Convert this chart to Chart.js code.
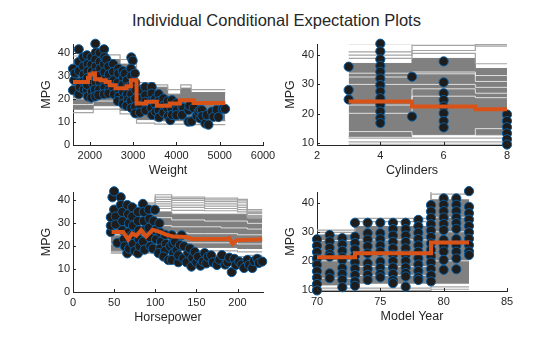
<!DOCTYPE html>
<html>
<head>
<meta charset="utf-8">
<script src="https://cdn.jsdelivr.net/npm/chart.js@4.4.1/dist/chart.umd.min.js"></script>
<style>
  html, body { margin: 0; padding: 0; background: #fff; }
  #wrap { position: relative; width: 560px; height: 337px; overflow: hidden; }
  #title { position: absolute; left: 0; top: 11px; width: 553px; text-align: center;
           font: 16.5px "Liberation Sans", Arial, sans-serif; color: #262626; }
  canvas { position: absolute; }
</style>
</head>
<body>
<div id="wrap">
  <div id="title">Individual Conditional Expectation Plots</div>
  <canvas id="p1" style="left:13px;top:32px" width="270" height="155"></canvas>
  <canvas id="p2" style="left:257px;top:32px" width="270" height="155"></canvas>
  <canvas id="p3" style="left:13px;top:180px" width="270" height="154"></canvas>
  <canvas id="p4" style="left:257px;top:180px" width="270" height="153"></canvas>
</div>
<script>
// ---- Weight panel ----
const weightTicks = [2000, 3000, 4000, 5000, 6000];
const weightPdpX = [1613, 1960, 2000, 2080, 2120, 2250, 2370, 2460, 2600, 2850, 2950, 3080, 3300, 3550, 3850, 4080, 4400, 5130];
const weightPdpY = [27.3, 29, 30.5, 31, 28.5, 28, 27.3, 25.9, 24.6, 25.4, 28, 18, 18.7, 17, 18, 19.4, 18.2, 18.2];
const weightGridX = [1613, 1950, 2080, 2400, 2700, 3000, 3080, 3500, 3800, 4100, 4340, 5130];
const weightBandHi = [37, 37.5, 38, 37, 35, 34, 26, 25, 22, 24.6, 22.7, 22.7];
const weightBandLo = [15.5, 15.5, 17, 17, 15, 14, 11, 10.5, 10.5, 10.5, 10.5, 10.5];
const weightLight = [
  [38.5, 39, 40, 39, 37, 36, 27, 26, 24, 26, 24, 24],
  [14, 14, 15.5, 15.5, 13.5, 12.5, 9.5, 9, 9, 9, 8.8, 8.8]
];
const weightWhite = [
  [20, 20, 21, 22, 20, 18, 14, 13, 14, 15, 14, 14],
  [17.5, 17.5, 19, 19, 17, 16, 20, 19, 17, 19, 18, 18]
];
const weightObs = [
  [1613,33],[1613,23.7],[1640,28],[1660,31],
  [1745,41.4],[1750,36],[1750,32],[1760,27],[1745,22],[1770,25],
  [1850,38],[1850,34],[1860,30.5],[1850,27.5],[1860,24],
  [1938,38.8],[1950,35],[1950,32],[1940,29],[1938,23.7],[1960,21],[1940,26],
  [2040,38],[2040,34.8],[2050,32],[2040,29.5],[2060,27],[2050,23],[2040,20.5],
  [2130,43.8],[2140,40],[2130,37],[2140,34],[2130,31],[2140,27],[2120,24],[2130,21],
  [2230,39.9],[2230,36],[2240,33],[2230,30],[2240,27],[2220,24],[2200,21.6],
  [2330,41.4],[2340,38],[2330,35],[2340,31.5],[2330,28],[2340,25],[2330,22],
  [2385,37],[2430,34],[2440,30.5],[2430,27],[2450,24],[2430,22.3],
  [2540,35],[2540,31.6],[2550,28],[2540,25],[2560,22],
  [2660,33],[2660,30.9],[2650,27],[2660,24],[2670,21],[2650,19],
  [2760,32],[2770,29],[2760,26],[2770,23],[2780,20],[2770,17.9],
  [2810,30.9],[2860,28],[2870,25],[2860,22],[2880,19.4],[2850,17],
  [2960,37.9],[2990,36.5],[2950,33],[2960,30],[2970,26],[2960,22],[2950,19],[2960,16],
  [3040,30.9],[3050,27],[3060,24],[3050,20],[3050,16.5],[3050,13.7],
  [3165,23.7],[3160,20],[3170,17],[3160,14],
  [3280,25],[3280,21.5],[3280,18.7],[3290,15],
  [3430,25.1],[3430,22.3],[3440,19],[3420,16],[3440,13],
  [3510,20],[3510,17.9],[3520,14.5],
  [3590,22],[3600,19],[3590,15.1],[3600,12],
  [3700,20.1],[3710,17],[3700,14],
  [3800,19],[3790,16],[3810,12.5],[3860,10.8],
  [3900,19.4],[3890,16],[3900,13],
  [4000,18],[4010,15.1],[4000,12.9],
  [4130,16.5],[4160,16],[4130,13],
  [4280,15.1],[4280,10.1],[4300,17],
  [4350,10.2],[4400,16],[4470,12.6],
  [4510,14.4],[4550,15.2],[4550,11.5],[4590,15.1],[4600,12.5],
  [4670,9.3],[4700,13],[4740,8.8],
  [4820,14.4],[4860,12.2],[4930,15.2],[4970,12.1],[5070,15.6],[5125,15.6]
];

// ---- Cylinders panel ----
const cylTicks = [2, 4, 6, 8];
const cylX = [3, 5, 7, 8];
const cylPdp = [24.2, 22.5, 21.6, 21.6];
const cylBandHi = [37.1, 38.8, 35.4, 35.4];
const cylBandLo = [12.4, 12.9, 12.9, 12.9];
const cylLight = [
  [43.8, 44.1, 44.1, 44.1],
  [41, 43.2, 43.5, 43.5],
  [39.9, 41.5, 43, 43],
  [38.8, 40.5, 37, 37],
  [11.8, 11.8, 11.8, 11.8],
  [10.5, 10.5, 10.5, 10.5],
  [9.7, 9.7, 9.7, 9.7]
];
const cylWhite = [
  [33.8, 34.2, 33, 33],
  [32.5, 33.6, 31, 31],
  [30, 30, 29, 29],
  [23, 28.5, 27, 27],
  [20.2, 26, 25.5, 25.5],
  [14, 12.6, 15, 15]
];
const cylObs = [
  [3,36],[3,28.1],[3,24.9],
  [4,43.8],[4,41.2],[4,38.5],[4,36.3],[4,34.3],[4,32],[4,29.8],[4,27.6],[4,25.3],[4,23.1],[4,20.8],[4,18.6],[4,16.9],
  [5,32.6],[5,19.1],
  [6,37.8],[6,30.7],[6,27],[6,24.7],[6,22.5],[6,20.2],[6,17.6],[6,15.4],
  [8,19.8],[8,17.6],[8,15.5],[8,13.4],[8,11.4],[8,9.6]
];

// ---- Horsepower panel ----
const hpTicks = [0, 50, 100, 150, 200];
const hpPdpX = [47, 61, 67, 72, 77, 83, 89, 97, 106, 114, 122, 138, 144, 187, 190, 194, 199, 230];
const hpPdpY = [26.2, 26.2, 23.0, 25.6, 24.6, 27.0, 24.3, 27.2, 26.2, 25.0, 24.2, 24.0, 23.2, 23.2, 23.6, 21.0, 22.6, 23.0];
const hpGridX = [46, 60, 80, 100, 120, 140, 160, 180, 200, 212, 230];
const hpBandHi = [35, 35.5, 35.5, 35, 34, 34, 34, 34, 34, 32, 32];
const hpBandLo = [18, 18, 18, 19, 19.5, 19.5, 19.5, 19.5, 19, 19, 19];
const hpLight = [
  [37, 38, 39, 42.5, 41.5, 41.5, 41, 41, 40.5, 36, 36],
  [36.5, 37.5, 38.5, 41.5, 40.8, 40.8, 40.3, 40.3, 39.8, 35.3, 35.3],
  [36.2, 37, 38, 40.5, 40, 40, 39.5, 39.5, 39, 34.8, 34.8],
  [36, 36.5, 37.5, 39.5, 39, 39, 38.5, 38.5, 38, 34.3, 34.3],
  [35.8, 36.2, 37, 38.5, 38, 38, 37.5, 37.5, 37, 33.5, 33.5],
  [35.5, 36, 36.5, 37.5, 37, 37, 36.5, 36.5, 36, 33, 33],
  [35.2, 35.8, 36, 36.5, 35.7, 35.7, 35.5, 35.5, 35, 32.5, 32.5],
  [17, 17, 17, 17.5, 17, 16.5, 16, 16, 15.5, 16, 16],
  [17.5, 17.5, 17.5, 18.3, 18.5, 18, 18, 18, 17.5, 17.5, 17.5]
];
const hpWhite = [
  [31.5, 31.5, 32, 32.5, 31.5, 31.5, 31, 31, 31, 30, 30],
  [28, 28, 29, 29, 28.5, 28.5, 28.5, 28, 28, 27.5, 27.5],
  [25, 25, 26, 26, 25.8, 25.5, 25.5, 25.5, 25, 25, 25],
  [21, 21, 22, 21.5, 21.5, 21.5, 21.5, 21.5, 21, 21, 21]
];
const hpObs = [
  [46,26.2],[46,29],[46,32.7],[48,41.4],[50,44],[50,36],[52,33],[52,29.5],[54,21.5],
  [58,41.4],[58,38],[60,35],[60,31],[60,27],[62,23],[63,20],
  [66,38],[67,34],[68,30],[67,26],[66,16.9],[68,19],
  [72,37],[72,33],[73,29],[72,25],[73,21],[75,18],
  [79,35],[79,31],[80,27],[80,23],[79,16.9],[81,20],
  [85,38.5],[86,35],[86,31],[87,27],[85,22],[87,18.5],
  [92,36],[93,32],[92,28],[93,24],[94,20],
  [99.6,35.9],[98,31],[97,19],[100,27],[101,23],
  [105,30],[106,26],[107,22],[106,19],[104,17],
  [112,25],[113,21],[112,18],[110,15.5],[116,14],[118,20],
  [120,24.8],[121,21],[122,17],[120,14],[124,22],
  [126,18.3],[128,13],[128,16],[130,20.5],[132,24.8],[134,14.7],[135,20],
  [138,13],[140,17],[142,19],[144,11.1],[145,15],[148,17.5],[150,13],
  [152,15.4],[155,11.5],[158,13.3],[160,17],[162,12.5],[164,15.4],[168,16],[170,13],
  [175,11.8],[178,14.1],[181,16.1],[185,12],[188,13],[190,15],[193,8.7],[196,14.5],[198,11.8],
  [202,13.3],[205,12],[208,10.5],[212,14],[214,11.8],[218,10.5],[220,13.5],[224,14.5],[226,12.7],[230,13.3]
];

// ---- Model Year panel ----
const yearTicks = [70, 75, 80, 85];
const yearX = [70, 73, 79, 82];
const yearPdp = [21.2, 22.6, 26.3, 26.3];
const yearBandHi = [28.9, 31.8, 41, 41];
const yearBandLo = [11.7, 12.3, 12.3, 12.3];
const yearLight = [
  [30.6, 34.6, 44, 44],
  [29.8, 33.5, 43, 43],
  [10.6, 10.6, 11, 11],
  [9.8, 9.8, 10.2, 10.2]
];
const yearWhite = [
  [27, 27.2, 35, 35],
  [20, 18, 30, 30],
  [14, 15, 20, 20]
];
const yearObs = [
  [70,27.4],[70,25.2],[70,23],[70,20.8],[70,18.6],[70,16.4],[70,14.2],[70,12],[70,9.8],
  [71,28.9],[71,26.7],[71,24.5],[71,22.3],[71,21.4],[71,15.7],[71,14],
  [72,27.8],[72,25.6],[72,23.4],[72,21.2],[72,20.3],[72,17.5],[72,15.5],[72,13.5],[72,10.9],
  [73,33.1],[73,28.3],[73,26.1],[73,23.9],[73,21.7],[73,19.5],[73,17.3],[73,15.1],[73,12.9],[73,11.4],
  [74,33.1],[74,29.5],[74,27.3],[74,25],[74,22.5],[74,19.2],[74,17.2],[74,15.2],[74,13.4],
  [75,33.1],[75,29.5],[75,27.4],[75,25.3],[75,23.2],[75,19.7],[75,17.6],[75,15.5],[75,14.3],
  [76,33.1],[76,30.9],[76,28.7],[76,26.5],[76,24.3],[76,22.1],[76,19.9],[76,17.7],[76,15.5],[76,13.3],[76,12.3],
  [77,33.1],[77,30.9],[77,28.7],[77,26.5],[77,24.3],[77,22.1],[77,19.9],[77,17.7],[77,15.8],[77,14.6],[77,11.1],
  [78,34.1],[78,31.9],[78,29.7],[78,27.5],[78,25.3],[78,23.1],[78,20.9],[78,18.7],[78,16.5],[78,14.3],[78,13.4],
  [79,39.2],[79,37],[79,34.8],[79,32.6],[79,30.4],[79,28.2],[79,26],[79,23.8],[79,21.6],[79,19.4],[79,17.2],[79,15],[79,12.9],
  [80,41.5],[80,39.3],[80,37.1],[80,34.9],[80,32.7],[80,30.6],[80,27.2],[80,25.2],[80,23.2],[80,20.3],[80,16.9],
  [81,41.5],[81,39.3],[81,37.1],[81,34.9],[81,33],[81,31],[81,27.5],[81,25.3],[81,23.1],[81,20.8],[81,17.1],
  [82,44],[82,38.6],[82,36.4],[82,34.2],[82,32],[82,29.8],[82,27.6],[82,25.4],[82,23.2],[82,22]
];

const TEXT = '#262626';
const FONT = '"Liberation Sans", Arial, sans-serif';

function pts(xs, ys) {
  return xs.map((x, i) => ({ x: x, y: ys[i] }));
}

// MATLAB style ticks pointing into the plot
const inwardTicks = {
  id: 'inwardTicks',
  afterDraw(chart) {
    const { ctx, chartArea: a, scales } = chart;
    ctx.save();
    ctx.strokeStyle = TEXT;
    ctx.lineWidth = 1;
    ctx.beginPath();
    scales.x.ticks.forEach(t => {
      const px = Math.round(scales.x.getPixelForValue(t.value)) + 0.5;
      ctx.moveTo(px, a.bottom);
      ctx.lineTo(px, a.bottom - 3);
    });
    scales.y.ticks.forEach(t => {
      const py = Math.round(scales.y.getPixelForValue(t.value)) + 0.5;
      ctx.moveTo(a.left, py);
      ctx.lineTo(a.left + 3, py);
    });
    ctx.stroke();
    ctx.restore();
  }
};

function renderPanel(canvasId, p) {
  const datasets = [];
  // hold each value until the next x, like MATLAB stairs
  const stepped = 'before';

  datasets.push({ data: pts(p.pdpX, p.pdpY), borderColor: '#D95319', borderWidth: 4,
                  stepped: p.pdpStepped ? stepped : false, order: 0 });
  datasets.push({ data: p.obs.map(o => ({ x: o[0], y: o[1] })), showLine: false,
                  pointRadius: 4.6, pointBackgroundColor: '#1d1d1d', pointBorderColor: '#0a5c9e',
                  pointBorderWidth: 1, clip: false, order: 1 });
  p.white.forEach(w => datasets.push({ data: pts(p.gridX, w), borderColor: 'rgba(255,255,255,0.75)',
                  borderWidth: 1, stepped: stepped, order: 2 }));
  p.light.forEach(l => datasets.push({ data: pts(p.gridX, l), borderColor: '#a4a4a4',
                  borderWidth: 1.2, stepped: stepped, order: 3 }));
  datasets.push({ data: pts(p.gridX, p.bandHi), borderColor: '#808080', borderWidth: 1,
                  stepped: stepped, order: 4 });
  datasets.push({ data: pts(p.gridX, p.bandLo), borderColor: '#808080', borderWidth: 1,
                  stepped: stepped, fill: '-1', backgroundColor: '#808080', order: 4 });

  return new Chart(document.getElementById(canvasId), {
    type: 'line',
    data: { datasets: datasets },
    options: {
      responsive: false,
      animation: false,
      events: [],
      elements: { point: { radius: 0 }, line: { tension: 0 } },
      layout: { padding: { top: 12, right: 20, left: 0, bottom: 0 } },
      plugins: { legend: { display: false }, tooltip: { enabled: false } },
      scales: {
        x: {
          type: 'linear', min: p.xMin, max: p.xMax,
          afterBuildTicks: s => { s.ticks = p.xTicks.map(v => ({ value: v })); },
          afterFit: s => { s.height = 42; },
          grid: { display: false, drawTicks: false },
          border: { display: true, color: TEXT, width: 1 },
          ticks: { color: TEXT, font: { family: FONT, size: 11 }, padding: 4, maxRotation: 0,
                   callback: v => String(v) },
          title: { display: true, text: p.xLabel, color: TEXT, font: { family: FONT, size: 12.5 },
                   padding: { top: 0, bottom: 9 } }
        },
        y: {
          type: 'linear', min: p.yMin, max: 43.7,
          afterBuildTicks: s => { s.ticks = p.yTicks.map(v => ({ value: v })); },
          afterFit: s => { s.width = 60; },
          grid: { display: false, drawTicks: false },
          border: { display: true, color: TEXT, width: 1 },
          ticks: { color: TEXT, font: { family: FONT, size: 11 }, padding: 3,
                   callback: v => String(v) },
          title: { display: true, text: 'MPG', color: TEXT, font: { family: FONT, size: 12.5 },
                   padding: { top: 26, bottom: 0 } }
        }
      }
    },
    plugins: [inwardTicks]
  });
}

renderPanel('p1', {
  pdpX: weightPdpX, pdpY: weightPdpY, pdpStepped: true, gridX: weightGridX,
  bandHi: weightBandHi, bandLo: weightBandLo, light: weightLight, white: weightWhite, obs: weightObs,
  xMin: 1613, xMax: 6000, xTicks: weightTicks, xLabel: 'Weight', yMin: 0, yTicks: [0, 10, 20, 30, 40]
});
renderPanel('p2', {
  pdpX: cylX, pdpY: cylPdp, pdpStepped: true, gridX: cylX,
  bandHi: cylBandHi, bandLo: cylBandLo, light: cylLight, white: cylWhite, obs: cylObs,
  xMin: 2, xMax: 8, xTicks: cylTicks, xLabel: 'Cylinders', yMin: 9.45, yTicks: [10, 20, 30, 40]
});
renderPanel('p3', {
  pdpX: hpPdpX, pdpY: hpPdpY, pdpStepped: false, gridX: hpGridX,
  bandHi: hpBandHi, bandLo: hpBandLo, light: hpLight, white: hpWhite, obs: hpObs,
  xMin: 0, xMax: 231, xTicks: hpTicks, xLabel: 'Horsepower', yMin: 0, yTicks: [0, 10, 20, 30, 40]
});
renderPanel('p4', {
  pdpX: yearX, pdpY: yearPdp, pdpStepped: true, gridX: yearX,
  bandHi: yearBandHi, bandLo: yearBandLo, light: yearLight, white: yearWhite, obs: yearObs,
  xMin: 70, xMax: 85, xTicks: yearTicks, xLabel: 'Model Year', yMin: 9.6, yTicks: [10, 20, 30, 40]
});
</script>
</body>
</html>
